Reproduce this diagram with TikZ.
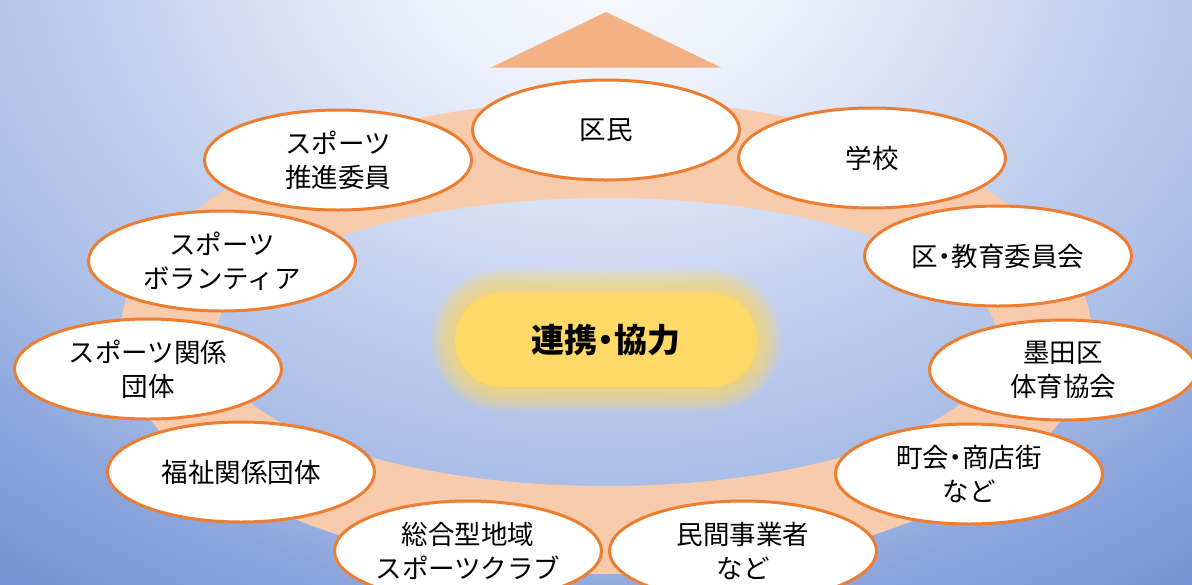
\documentclass[tikz,border=0pt]{standalone}
\usepackage{fontspec}
\newfontfamily\jp{Noto Sans CJK JP}
\newfontfamily\jpp[RawFeature=+palt]{Noto Sans CJK JP}
\newcommand\nkg{{\jpp ・}}
\usetikzlibrary{shapes.geometric}
\definecolor{bgA}{RGB}{250,252,255}
\definecolor{bgB}{RGB}{238,242,251}
\definecolor{bgC}{RGB}{194,208,238}
\definecolor{bgD}{RGB}{168,188,230}
\definecolor{bgE}{RGB}{140,166,220}
\definecolor{bgF}{RGB}{108,142,208}
\pgfdeclareradialshading{bgsh}{\pgfpoint{0bp}{0bp}}{color(0bp)=(bgA); color(4bp)=(bgB); color(11bp)=(bgC); color(15.5bp)=(bgD); color(18.5bp)=(bgE); color(23bp)=(bgF); color(50bp)=(bgF)}
\definecolor{ringc}{RGB}{248,203,173}
\definecolor{tric}{RGB}{244,177,131}
\definecolor{edgec}{RGB}{237,125,49}
\definecolor{glowc}{RGB}{255,217,102}
\begin{document}
\begin{tikzpicture}[x=1pt,y=-1pt,
  bub/.style={ellipse, draw=edgec, line width=3pt, fill=white,
    minimum width=267pt, minimum height=100pt, inner sep=0pt, align=center,
    font=\jp\fontsize{26.5pt}{34pt}\selectfont},
  two/.style={yshift=-4pt}]
\useasboundingbox (0,0) rectangle (1192,584);
\clip (0,0) rectangle (1192,584);
% background
\shade[shading=bgsh] (606,-60) ellipse [x radius=1150pt, y radius=900pt];
% ring
\fill[ringc, even odd rule] (606,337) ellipse [x radius=486pt, y radius=237pt]
  (606,342) ellipse [x radius=392pt, y radius=144pt];
% arrow head
\fill[tric] (606,12) -- (491,67.5) -- (721,67.5) -- cycle;
% glow
\foreach \e in {24,21,...,3} {
  \pgfmathsetmacro\rr{47+\e}
  \fill[glowc, fill opacity=0.14, rounded corners=\rr pt] (455-\e,293-\e) rectangle (757+\e,387+\e);
}
\fill[glowc, rounded corners=47pt] (455,293) rectangle (757,387);
\node[font=\jp\bfseries\fontsize{33pt}{40pt}\selectfont] (center) at (606,340) {連携{\jpp\bfseries ・}協力};
% bubbles
\node[bub] (kumin) at (606,130) {区民};
\node[bub] (gakko) at (872,158) {学校};
\node[bub] (kyoiku) at (998,256) {区\nkg 教育委員会};
\node[bub, two] (taiiku) at (1063,366) {墨田区\\体育協会};
\node[bub, two] (chokai) at (969,470) {町会\nkg 商店街\\など};
\node[bub, two] (minkan) at (743,547) {民間事業者\\など};
\node[bub, two] (sogo) at (468,547) {総合型地域\\スポーツクラブ};
\node[bub] (fukushi) at (241,472) {福祉関係団体};
\node[bub, two] (kankei) at (148,365) {スポーツ関係\\団体};
\node[bub, two] (volun) at (222,257) {スポーツ\\ボランティア};
\node[bub, two] (suishin) at (338,156) {スポーツ\\推進委員};
\end{tikzpicture}
\end{document}
